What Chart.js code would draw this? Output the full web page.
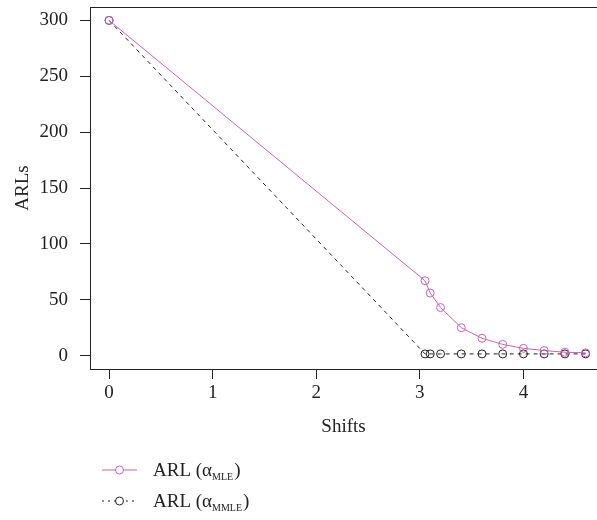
<!DOCTYPE html>
<html>
<head>
<meta charset="utf-8">
<script src="https://cdn.jsdelivr.net/npm/chart.js@4/dist/chart.umd.min.js"></script>
<style>
  html, body { margin: 0; padding: 0; background: #fff; }
  #wrap { width: 597px; height: 520px; }
</style>
</head>
<body>
<div id="wrap"><canvas id="arlChart" width="597" height="520"></canvas></div>
<script>
// values
const shifts = [0, 3.05, 3.1, 3.2, 3.4, 3.6, 3.8, 4.0, 4.2, 4.4, 4.6];
const arlMLE = [300, 67, 56, 43, 25, 15.5, 10, 6.5, 4.5, 3, 2.5];
const arlMMLE = [300, 1.5, 1.5, 1.5, 1.5, 1.5, 1.5, 1.5, 1.5, 1.5, 1.5];
const xTicks = [0, 1, 2, 3, 4];
const yTicks = [0, 50, 100, 150, 200, 250, 300];
const seriesNames = ['MLE', 'MMLE'];

const pink = '#c763b4';
const dark = '#222222';
const serif = "'Liberation Serif', 'DejaVu Serif', serif";

// top border of the plot box (right side is off the canvas)
const boxPlugin = {
    id: 'box',
    afterDraw(chart) {
        const a = chart.chartArea;
        const ctx = chart.ctx;
        ctx.save();
        ctx.strokeStyle = dark;
        ctx.lineWidth = 1;
        ctx.beginPath();
        ctx.moveTo(a.left, a.top + 0.5);
        ctx.lineTo(a.right, a.top + 0.5);
        ctx.stroke();
        ctx.restore();
    }
};

// legend with subscripts, drawn under the axis
const legendDash = [[], [2, 4]];
const legendPlugin = {
    id: 'subLegend',
    afterDraw(chart) {
        const ctx = chart.ctx;
        ctx.save();
        chart.data.datasets.forEach((ds, i) => {
            const y = 470 + i * 31;
            ctx.strokeStyle = ds.borderColor;
            ctx.lineWidth = 1;
            ctx.setLineDash(legendDash[i]);
            ctx.beginPath();
            ctx.moveTo(102, y);
            ctx.lineTo(137, y);
            ctx.stroke();
            ctx.setLineDash([]);
            ctx.fillStyle = '#fff';
            ctx.beginPath();
            ctx.arc(119.5, y, 4, 0, Math.PI * 2);
            ctx.fill();
            ctx.stroke();

            ctx.fillStyle = dark;
            ctx.textBaseline = 'alphabetic';
            ctx.font = '19px ' + serif;
            let x = 153;
            const base = y + 6;
            ctx.fillText('ARL (α', x, base);
            x += ctx.measureText('ARL (α').width;
            ctx.font = '10px ' + serif;
            ctx.fillText(seriesNames[i], x, base + 4);
            x += ctx.measureText(seriesNames[i]).width + 1;
            ctx.font = '19px ' + serif;
            ctx.fillText(')', x, base);
        });
        ctx.restore();
    }
};

const ctx = document.getElementById('arlChart').getContext('2d');
new Chart(ctx, {
    type: 'line',
    data: {
        datasets: [{
            label: 'ARL (αMLE)',
            data: shifts.map((s, i) => ({ x: s, y: arlMLE[i] })),
            borderColor: pink,
            borderWidth: 1,
            pointRadius: 4,
            pointBorderWidth: 1,
            pointBorderColor: pink,
            pointBackgroundColor: 'rgba(0,0,0,0)',
            tension: 0
        }, {
            label: 'ARL (αMMLE)',
            data: shifts.map((s, i) => ({ x: s, y: arlMMLE[i] })),
            borderColor: dark,
            borderWidth: 1,
            borderDash: [4, 4],
            pointRadius: 4,
            pointBorderWidth: 1,
            pointBorderColor: dark,
            pointBackgroundColor: 'rgba(0,0,0,0)',
            tension: 0
        }]
    },
    options: {
        responsive: false,
        animation: false,
        layout: { autoPadding: false, padding: { top: 7, right: 0, bottom: 82, left: 0 } },
        plugins: {
            legend: { display: false },
            tooltip: { enabled: false }
        },
        scales: {
            x: {
                type: 'linear',
                min: -0.184,
                max: 4.71,
                afterBuildTicks: s => { s.ticks = xTicks.map(v => ({ value: v })); },
                afterFit: s => { s.height = 69; s.paddingLeft = 0; s.paddingRight = 0; },
                grid: { drawOnChartArea: false, drawTicks: true, tickLength: 10, color: dark },
                border: { display: true, color: dark, width: 1 },
                ticks: { color: dark, padding: 3, font: { family: serif, size: 19 } },
                title: { display: true, text: 'Shifts', color: dark, padding: { top: 8, bottom: 0 }, font: { family: serif, size: 19 } }
            },
            y: {
                min: -12,
                max: 312,
                afterBuildTicks: s => { s.ticks = yTicks.map(v => ({ value: v })); },
                afterFit: s => { s.width = 90; s.paddingTop = 0; s.paddingBottom = 0; },
                grid: { drawOnChartArea: false, drawTicks: true, tickLength: 10, color: dark },
                border: { display: true, color: dark, width: 1 },
                ticks: { color: dark, padding: 12, font: { family: serif, size: 19 } },
                title: { display: true, text: 'ARLs', color: dark, padding: { top: 12, bottom: 0 }, font: { family: serif, size: 19 } }
            }
        }
    },
    plugins: [boxPlugin, legendPlugin]
});
</script>
</body>
</html>
